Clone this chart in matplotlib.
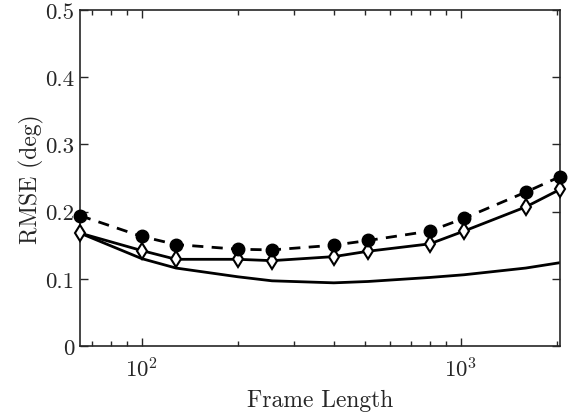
import numpy as np
import matplotlib.pyplot as plt

plt.rcParams['font.family'] = ['cmr10', 'DejaVu Serif']
plt.rcParams['mathtext.fontset'] = 'cm'
plt.rcParams['axes.formatter.use_mathtext'] = True

# Frame lengths
frame_len = [64, 100, 128, 200, 256, 400, 512, 800, 1024, 1600, 2048]

# RMSE series
rmse_circle = [0.194, 0.163, 0.151, 0.144, 0.143, 0.150, 0.157, 0.171, 0.190, 0.229, 0.252]
rmse_diamond = [0.168, 0.142, 0.129, 0.129, 0.127, 0.133, 0.141, 0.152, 0.171, 0.207, 0.233]
rmse_plain = [0.168, 0.130, 0.116, 0.103, 0.097, 0.094, 0.096, 0.102, 0.106, 0.116, 0.124]

fig = plt.figure(figsize=(5.68, 4.14), dpi=100)
ax = fig.add_axes([80 / 568, 67 / 414, 480 / 568, 336 / 414])

ax.plot(frame_len, rmse_plain, '-', color='black', lw=2)
ax.plot(frame_len, rmse_diamond, '-', color='black', lw=2, marker='d',
        ms=8, mfc='white', mec='black', mew=1.5, clip_on=False, zorder=3)
ax.plot(frame_len, rmse_circle, '--', color='black', lw=2, marker='o',
        ms=9, mfc='black', mec='black', dashes=(4, 3), clip_on=False, zorder=4)

ax.set_xscale('log')
ax.set_xlim(64, 2048)
ax.set_ylim(0, 0.5)
ax.set_yticks([0, 0.1, 0.2, 0.3, 0.4, 0.5])
ax.set_yticklabels(['0', '0.1', '0.2', '0.3', '0.4', '0.5'])
ax.tick_params(which='both', direction='in', top=True, right=True,
               labelsize=16.5, colors='#262626')
ax.tick_params(axis='y', pad=4)
ax.tick_params(axis='x', pad=7)
ax.tick_params(which='major', length=6, width=1)
ax.tick_params(which='minor', length=3.5, width=1)
for s in ax.spines.values():
    s.set_linewidth(1.2)
    s.set_color('#262626')

ax.set_xlabel('Frame Length', fontsize=17, color='#262626', labelpad=6)
ax.set_ylabel('RMSE (deg)', fontsize=17, color='#262626', labelpad=1)

fig.savefig('out.png', dpi=100)
